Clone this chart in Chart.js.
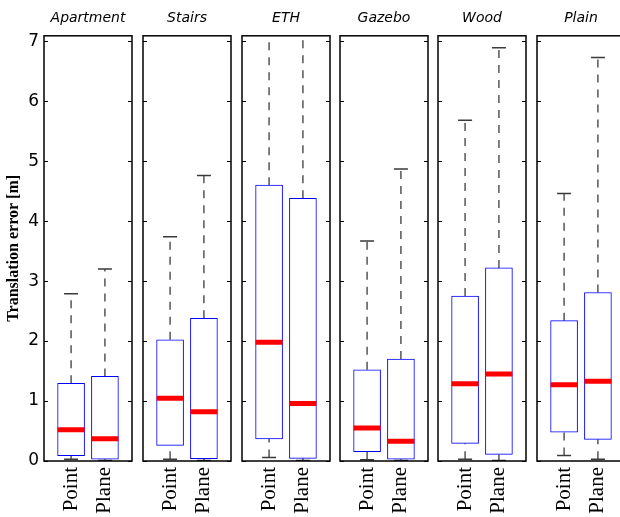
<!DOCTYPE html>
<html lang="en">
<head>
  <meta charset="UTF-8" />
  <title>Translation error boxplots</title>
  <script src="https://cdn.jsdelivr.net/npm/chart.js"></script>
  <style>
    body { margin: 0; background: #fff; }
    #wrap { position: relative; width: 620px; height: 517px; overflow: hidden; background: #fff; }
    #wrap canvas { position: absolute; top: 0; }
  </style>
</head>
<body>
  <div id="wrap"></div>

  <script>
    // scenes (one panel each) and the two methods per panel
    const scenes = ["Apartment", "Stairs", "ETH", "Gazebo", "Wood", "Plain"];
    const methods = ["Point", "Plane"];
    const yTicks = [0, 1, 2, 3, 4, 5, 6, 7];

    // box statistics, one value per scene
    const pointMin = [0.03, 0.03, 0.06, 0.02, 0.03, 0.09];
    const pointQ1  = [0.09, 0.26, 0.37, 0.155, 0.295, 0.48];
    const pointMed = [0.52, 1.045, 1.98, 0.55, 1.29, 1.27];
    const pointQ3  = [1.295, 2.02, 4.6, 1.52, 2.75, 2.34];
    const pointMax = [2.79, 3.74, 9.5, 3.67, 5.68, 4.46];

    const planeMin = [0.01, 0.01, 0.01, 0.01, 0.01, 0.03];
    const planeQ1  = [0.03, 0.04, 0.045, 0.03, 0.11, 0.36];
    const planeMed = [0.37, 0.82, 0.96, 0.33, 1.45, 1.33];
    const planeQ3  = [1.41, 2.38, 4.38, 1.70, 3.22, 2.81];
    const planeMax = [3.2, 4.76, 9.0, 4.87, 6.89, 6.73];

    // panel layout
    const panelLeft = [44, 143, 242, 340, 438, 537];
    const panelWidth = 88;
    const yAxisWidth = 44;
    const pad = 4;

    // frame round the plot area plus inward ticks on both sides
    const framePlugin = {
      id: "frame",
      afterDraw(chart) {
        const { ctx, chartArea: a, scales } = chart;
        ctx.save();
        ctx.strokeStyle = "#000";
        ctx.lineWidth = 1;
        yTicks.forEach(v => {
          const py = Math.round(scales.y.getPixelForValue(v)) + 0.5;
          ctx.beginPath();
          ctx.moveTo(a.left, py); ctx.lineTo(a.left + 4, py);
          ctx.moveTo(a.right - 4, py); ctx.lineTo(a.right, py);
          ctx.stroke();
        });
        ctx.lineWidth = 1.5;
        ctx.strokeRect(a.left, a.top, a.right - a.left, a.bottom - a.top);
        ctx.restore();
      }
    };

    function makePanel(i) {
      const first = i === 0;
      const canvas = document.createElement("canvas");
      const left = first ? 0 : panelLeft[i] - pad;
      const width = first ? yAxisWidth + panelWidth + pad : panelWidth + 2 * pad;
      canvas.width = width;
      canvas.height = 517;
      canvas.style.left = left + "px";
      canvas.style.width = width + "px";
      canvas.style.height = "517px";
      document.getElementById("wrap").appendChild(canvas);

      const mins = [pointMin[i], planeMin[i]];
      const q1s = [pointQ1[i], planeQ1[i]];
      const meds = [pointMed[i], planeMed[i]];
      const q3s = [pointQ3[i], planeQ3[i]];
      const maxs = [pointMax[i], planeMax[i]];

      const boxes = methods.map((m, k) => ({ x: k + 1, y: [q1s[k], q3s[k]] }));
      const medians = methods.map((m, k) => ({ x: k + 1, y: meds[k] }));
      const whiskers = [];
      methods.forEach((m, k) => {
        whiskers.push({ x: k + 1, y: mins[k] }, { x: k + 1, y: q1s[k] }, { x: k + 1, y: null });
        whiskers.push({ x: k + 1, y: q3s[k] }, { x: k + 1, y: maxs[k] }, { x: k + 1, y: null });
      });
      const caps = [];
      methods.forEach((m, k) => {
        caps.push({ x: k + 1, y: mins[k] }, { x: k + 1, y: maxs[k] });
      });

      new Chart(canvas, {
        type: "bar",
        data: {
          datasets: [
            {
              type: "line",
              data: whiskers,
              borderColor: "#3a3a3a",
              borderWidth: 1.3,
              borderDash: [8, 7],
              pointRadius: 0,
              spanGaps: false,
              order: 3
            },
            {
              type: "line",
              data: caps,
              showLine: false,
              pointStyle: "line",
              pointRadius: 7,
              pointBorderColor: "#3a3a3a",
              pointBorderWidth: 1.5,
              order: 3
            },
            {
              data: boxes,
              backgroundColor: "#ffffff",
              borderColor: "#0000ff",
              borderWidth: 1,
              borderSkipped: false,
              barThickness: 27,
              order: 2
            },
            {
              type: "line",
              data: medians,
              showLine: false,
              pointStyle: "line",
              pointRadius: 13.5,
              pointBorderColor: "#ff0000",
              pointBorderWidth: 5,
              order: 1
            }
          ]
        },
        options: {
          responsive: false,
          animation: false,
          events: [],
          layout: { autoPadding: false, padding: { left: first ? 0 : pad, right: pad, top: 0, bottom: 0 } },
          plugins: {
            legend: { display: false },
            tooltip: { enabled: false },
            title: {
              display: true,
              text: scenes[i],
              fullSize: false,
              color: "#000",
              font: { family: "DejaVu Sans", style: "italic", size: 14, weight: "normal" },
              padding: { top: 10, bottom: 9 }
            }
          },
          scales: {
            x: {
              type: "linear",
              offset: false,
              min: 0.2,
              max: 2.8,
              grid: { display: false, drawTicks: false },
              border: { display: false },
              afterBuildTicks: s => { s.ticks = methods.map((m, k) => ({ value: k + 1 })); },
              afterFit: s => { s.height = 56; s.paddingLeft = 0; s.paddingRight = 0; },
              ticks: {
                autoSkip: false,
                minRotation: 90,
                maxRotation: 90,
                padding: 6,
                color: "#000",
                font: { family: "Liberation Serif", size: 21 },
                callback: v => methods[v - 1]
              }
            },
            y: {
              display: first,
              min: 0,
              max: 7.09,
              grid: { display: false, drawTicks: false },
              border: { display: false },
              afterBuildTicks: s => { s.ticks = yTicks.map(v => ({ value: v })); },
              afterFit: s => { s.width = first ? yAxisWidth : 0; },
              ticks: {
                padding: 5,
                color: "#000",
                font: { family: "DejaVu Sans", size: 17 }
              },
              title: {
                display: true,
                text: "Translation error [m]",
                color: "#000",
                font: { family: "Liberation Serif", weight: "bold", size: 16 },
                padding: { top: 4, bottom: 0 }
              }
            }
          }
        },
        plugins: [framePlugin]
      });
    }

    scenes.forEach((s, i) => makePanel(i));
  </script>
</body>
</html>
